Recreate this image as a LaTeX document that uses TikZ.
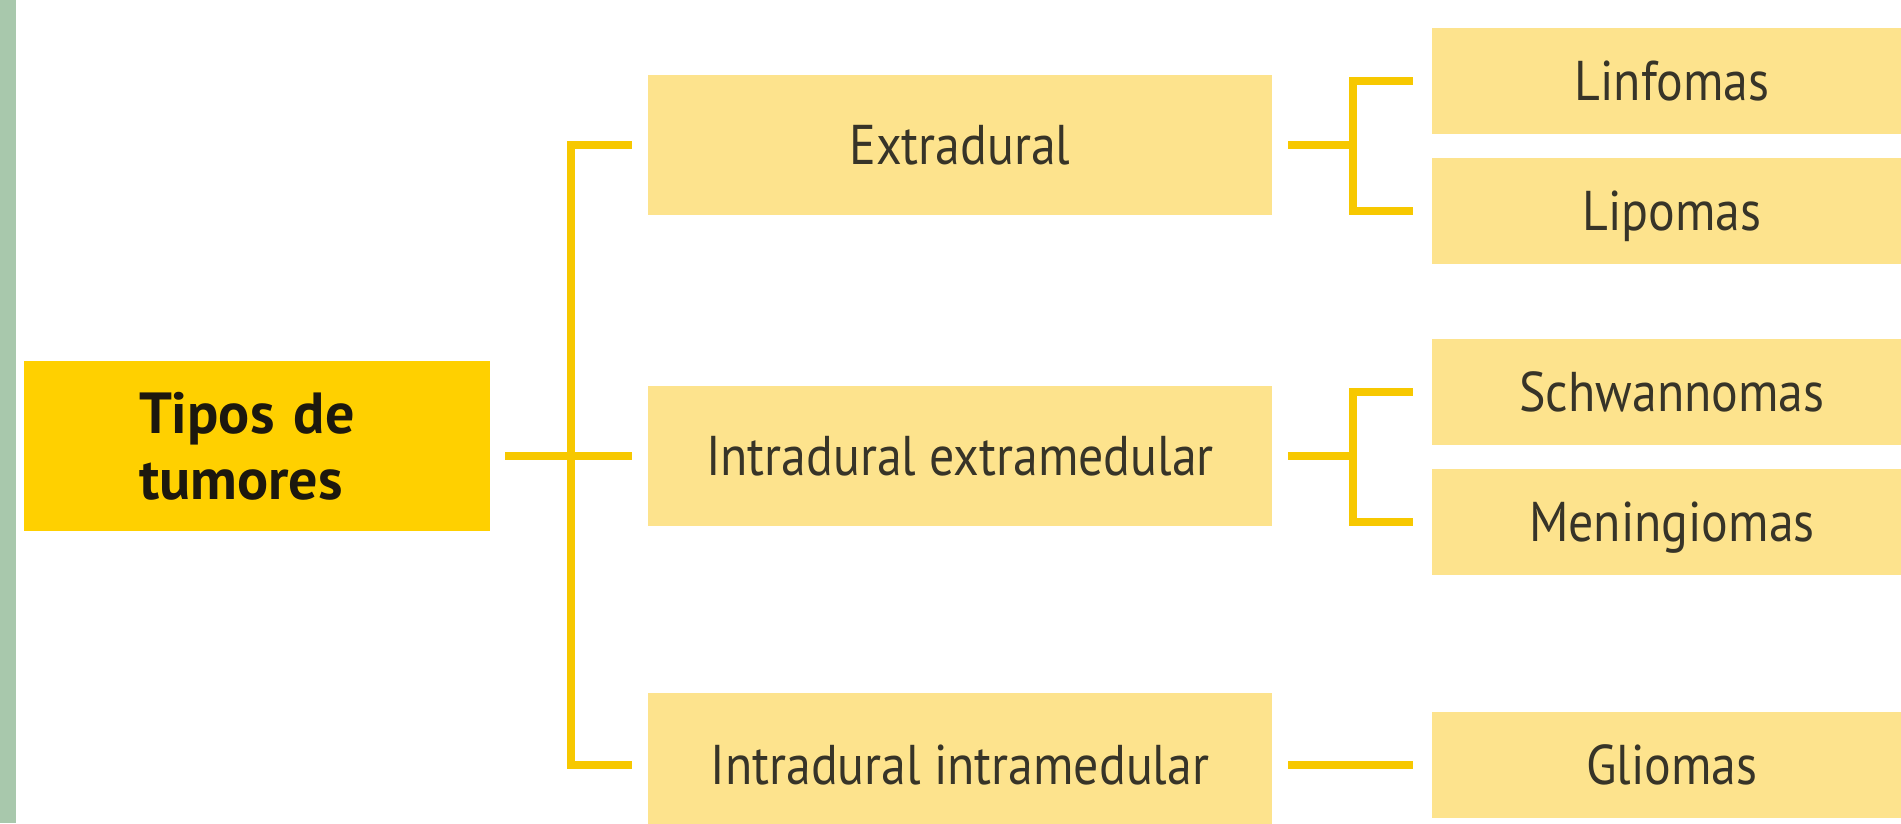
\documentclass[tikz,border=0pt]{standalone}
\usepackage{fontspec}
\setmainfont[FakeStretch=0.89]{PT Sans}
\newfontfamily\titlefont{PT Sans}
\definecolor{stripgreen}{RGB}{168,200,172}
\definecolor{gold}{RGB}{255,208,0}
\definecolor{lightgold}{RGB}{253,227,141}
\definecolor{linegold}{RGB}{247,200,0}
\definecolor{boxtext}{RGB}{55,52,40}
\definecolor{maintext}{RGB}{28,24,14}
\tikzset{
  mainbox/.style={fill=gold, inner sep=0pt, minimum width=466pt, minimum height=170pt,
    align=left, text width=236pt, text=maintext, font=\titlefont\bfseries\fontsize{58}{66}\selectfont},
  midbox/.style={fill=lightgold, inner sep=0pt, minimum width=624pt, minimum height=140pt,
    text=boxtext, font=\fontsize{56}{60}\selectfont, text height=39pt, text depth=0pt},
  leafbox/.style={fill=lightgold, inner sep=0pt, minimum width=480pt, minimum height=106pt,
    text=boxtext, font=\fontsize{56}{60}\selectfont, text height=39pt, text depth=0pt},
  conn/.style={draw=linegold, line width=8pt}
}
\begin{document}
\begin{tikzpicture}[x=1pt,y=-1pt]
\useasboundingbox (0,0) rectangle (1901,823);
\fill[white] (0,0) rectangle (1901,823);
\fill[stripgreen] (0,0) rectangle (16,823);

\node[mainbox] (main) at (257,446) {Tipos de\\tumores};

\node[midbox] (ext1) at (960,145) {Extradural};
\node[midbox] (ext2) at (960,456) {Intradural extramedular};
\node[midbox, minimum height=144pt] (ext3) at (960,765) {Intradural intramedular};

\node[leafbox] (lin) at (1672,80.5) {Linfomas};
\node[leafbox] (lip) at (1672,211) {Lipomas};
\node[leafbox] (sch) at (1672,391.5) {Schwannomas};
\node[leafbox] (men) at (1672,521.5) {Meningiomas};
\node[leafbox] (gli) at (1672,765) {Gliomas};

\coordinate (b1) at (571,0);
\coordinate (b2) at (1353,0);

% main bracket
\draw[conn] ([xshift=15pt]main.east |- ext2.west) -- ([xshift=-16pt]ext2.west);
\draw[conn] ([xshift=-16pt]ext1.west) -- (b1 |- ext1.west) -- (b1 |- ext3.west) -- ([xshift=-16pt]ext3.west);

% extradural bracket
\draw[conn] ([xshift=16pt]ext1.east) -- (b2 |- ext1.east);
\draw[conn] ([xshift=-19pt]lin.west) -- (b2 |- lin.west) -- (b2 |- lip.west) -- ([xshift=-19pt]lip.west);

% extramedular bracket
\draw[conn] ([xshift=16pt]ext2.east) -- (b2 |- ext2.east);
\draw[conn] ([xshift=-19pt]sch.west) -- (b2 |- sch.west) -- (b2 |- men.west) -- ([xshift=-19pt]men.west);

% intramedular link
\draw[conn] ([xshift=16pt]ext3.east) -- ([xshift=-19pt]gli.west);
\end{tikzpicture}
\end{document}
